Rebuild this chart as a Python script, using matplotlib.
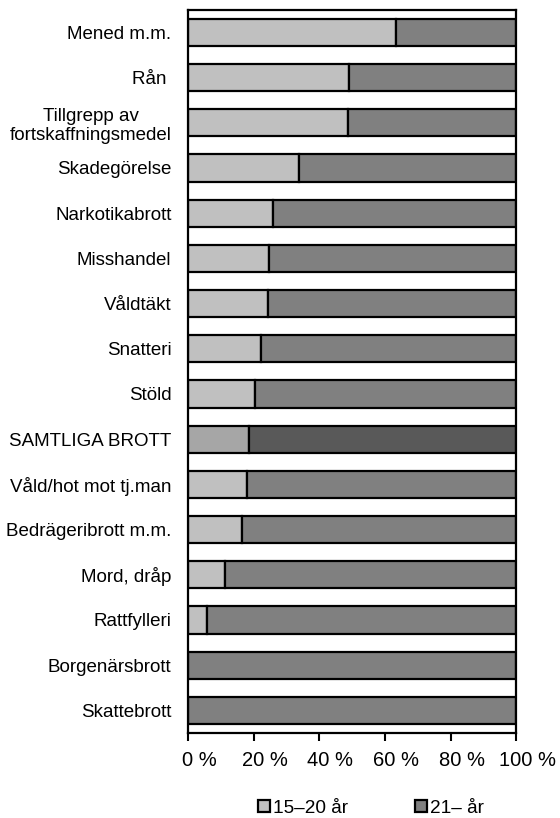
import numpy as np
import matplotlib
matplotlib.use('Agg')
import matplotlib.pyplot as plt
from matplotlib.transforms import ScaledTranslation

plt.rcParams['font.family'] = ['Liberation Sans', 'DejaVu Sans']

# Andel per åldersgrupp (procent), uppifrån och ned
kategorier = ['Mened m.m.', 'Rån ', 'Tillgrepp av\nfortskaffningsmedel', 'Skadegörelse',
              'Narkotikabrott', 'Misshandel', 'Våldtäkt', 'Snatteri', 'Stöld',
              'SAMTLIGA BROTT', 'Våld/hot mot tj.man', 'Bedrägeribrott m.m.',
              'Mord, dråp', 'Rattfylleri', 'Borgenärsbrott', 'Skattebrott']
unga = [63.2, 49.1, 48.8, 33.7, 26.0, 24.6, 24.2, 22.2, 20.3,
        18.4, 18.0, 16.5, 11.2, 5.6, 0.0, 0.0]
aldre = [100 - v for v in unga]

ljus = ['#C0C0C0'] * len(kategorier)
mork = ['#808080'] * len(kategorier)
i_samtliga = kategorier.index('SAMTLIGA BROTT')
ljus[i_samtliga] = '#A6A6A6'
mork[i_samtliga] = '#595959'

fig = plt.figure(figsize=(5.6, 8.18), dpi=100)
ax = fig.add_axes([0.336, 0.104, 0.586, 0.884])

y = np.arange(len(kategorier))
ax.barh(y, unga, height=0.6, color=ljus, edgecolor='black', linewidth=1.6, label='15–20 år')
ax.barh(y, aldre, left=unga, height=0.6, color=mork, edgecolor='black', linewidth=1.6, label='21– år')

ax.set_xlim(0, 100)
ax.set_ylim(len(kategorier) - 0.5, -0.5)
ax.set_yticks(y)
ax.set_yticklabels(kategorier, fontsize=13.5, ha='right', multialignment='center')
ax.tick_params(axis='y', length=0, pad=12)
ax.set_xticks(range(0, 101, 20))
ax.set_xticklabels([f'{v} %' for v in range(0, 101, 20)], fontsize=14.5)
ax.tick_params(axis='x', length=6, width=1.5, pad=7, direction='out')
# etiketterna sitter lite till höger om strecken i originalet
forskjut = ScaledTranslation(11 / 100, 0, fig.dpi_scale_trans)
for lbl in ax.get_xticklabels():
    lbl.set_transform(lbl.get_transform() + forskjut)
for s in ax.spines.values():
    s.set_linewidth(1.6)
    s.set_color('black')

handles, labels = ax.get_legend_handles_labels()
leg = fig.legend(handles, labels, loc='center', bbox_to_anchor=(0.662, 0.012), ncol=2,
                 frameon=False, fontsize=13.7, handlelength=0.63, handleheight=0.63,
                 handletextpad=0.16, columnspacing=3.5, borderpad=0, borderaxespad=0)

fig.savefig('out.png', dpi=100)
